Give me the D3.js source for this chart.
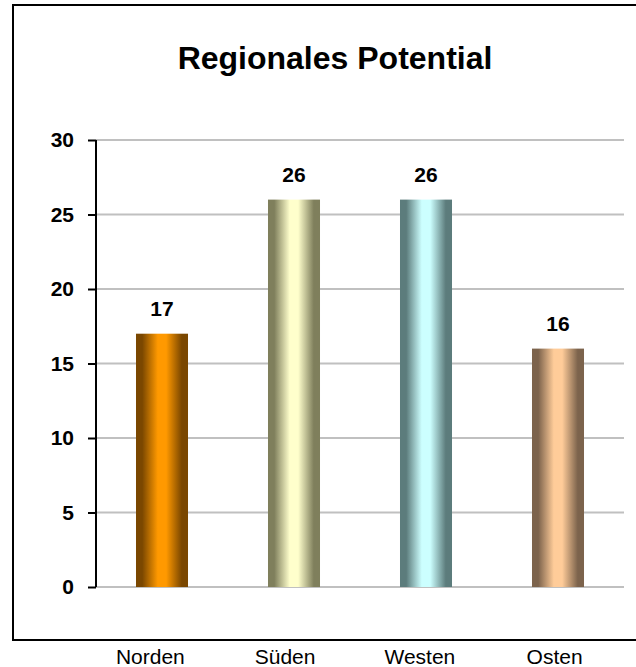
<!DOCTYPE html>
<html>
<head>
<meta charset="utf-8">
<script src="https://cdn.jsdelivr.net/npm/d3@7"></script>
<style>
  body { margin: 0; background: #fff; }
  svg { display: block; font-family: "Liberation Sans", Arial, sans-serif; }
</style>
</head>
<body>
<div id="chart"></div>
<script>
// chart data
const title = "Regionales Potential";
const regions = ["Norden", "Süden", "Westen", "Osten"];
const potential = [17, 26, 26, 16];
const yTicks = [0, 5, 10, 15, 20, 25, 30];

// bar shading: dark edge colour and light centre colour per region
const edgeColors = ["#7a4700", "#7f7f5c", "#5c7c7c", "#7c634c"];
const centerColors = ["#ff9900", "#ffffcc", "#ccffff", "#ffcc99"];

const width = 636, height = 667;
const margin = { top: 140, right: 12, bottom: 80, left: 96 };

const svg = d3.select("#chart").append("svg")
    .attr("width", width)
    .attr("height", height);

// gradients for the cylinder look
const defs = svg.append("defs");
regions.forEach((r, i) => {
    const g = defs.append("linearGradient")
        .attr("id", "grad_" + i)
        .attr("x1", "0%").attr("x2", "100%")
        .attr("y1", "0%").attr("y2", "0%");
    const stops = [
        [0, edgeColors[i]], [0.12, edgeColors[i]], [0.42, centerColors[i]],
        [0.58, centerColors[i]], [0.88, edgeColors[i]], [1, edgeColors[i]]
    ];
    stops.forEach(s => {
        g.append("stop").attr("offset", s[0]).attr("stop-color", s[1]);
    });
});

// outer frame (runs off the right edge)
svg.append("path")
    .attr("d", "M640,5 H13 V640 H640")
    .attr("fill", "none")
    .attr("stroke", "#000")
    .attr("stroke-width", 2);

svg.append("text")
    .attr("x", 335)
    .attr("y", 69)
    .attr("text-anchor", "middle")
    .style("font-weight", "bold")
    .style("font-size", "32px")
    .text(title);

const x = d3.scaleBand()
    .domain(regions)
    .range([margin.left, width - margin.right])
    .paddingInner(0.606)
    .paddingOuter(0.303);

// the category names sit on a slightly wider band than the bars
const xLabel = d3.scaleBand()
    .domain(regions)
    .range([83, 622]);

const y = d3.scaleLinear()
    .domain([0, 30])
    .range([587, margin.top]);

// gridlines
svg.append("g")
    .selectAll("line")
    .data(yTicks)
    .enter().append("line")
      .attr("x1", margin.left)
      .attr("x2", width - margin.right)
      .attr("y1", d => y(d))
      .attr("y2", d => y(d))
      .attr("stroke", "#c0c0c0")
      .attr("stroke-width", 2);

// y axis
const yAxis = svg.append("g")
    .attr("transform", "translate(" + margin.left + ",0)")
    .call(d3.axisLeft(y).tickValues(yTicks).tickSize(8).tickPadding(14));
yAxis.select(".domain").attr("stroke", "#000").attr("stroke-width", 2)
    .attr("d", "M0," + y(30) + "V" + y(0));
yAxis.selectAll(".tick line").attr("stroke", "#000").attr("stroke-width", 2);
yAxis.selectAll(".tick text")
    .style("font-family", "\"Liberation Sans\", Arial, sans-serif")
    .style("font-size", "21px")
    .style("font-weight", "bold")
    .attr("fill", "#000");

// bars
svg.append("g")
    .selectAll("rect")
    .data(potential)
    .enter().append("rect")
      .attr("x", (d, i) => x(regions[i]))
      .attr("y", d => y(d))
      .attr("width", x.bandwidth())
      .attr("height", d => y(0) - y(d))
      .attr("fill", (d, i) => "url(#grad_" + i + ")");

// value labels
svg.append("g")
    .selectAll("text")
    .data(potential)
    .enter().append("text")
      .attr("x", (d, i) => x(regions[i]) + x.bandwidth() / 2)
      .attr("y", d => y(d) - 18)
      .attr("text-anchor", "middle")
      .style("font-size", "21px")
      .style("font-weight", "bold")
      .text(d => d);

// category labels (below the frame)
svg.append("g")
    .selectAll("text")
    .data(regions)
    .enter().append("text")
      .attr("x", d => xLabel(d) + xLabel.bandwidth() / 2)
      .attr("y", 664)
      .attr("text-anchor", "middle")
      .style("font-size", "21px")
      .text(d => d);
</script>
</body>
</html>
